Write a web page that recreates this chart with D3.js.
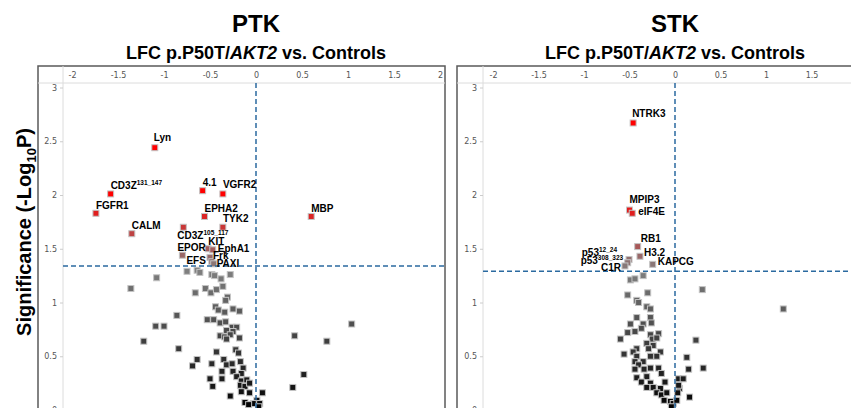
<!DOCTYPE html>
<html>
<head>
<meta charset="utf-8">
<script src="https://cdn.jsdelivr.net/npm/d3@7"></script>
<style>
  body { margin: 0; background: #fff; }
  svg { display: block; font-family: Arial, "Liberation Sans", sans-serif; }
  .tick text { font-family: "DejaVu Sans", Verdana, sans-serif; }
</style>
</head>
<body>
<div id="chart"></div>
<script>
// x ticks / y ticks shared by both panels
const xTicks = [-2, -1.5, -1, -0.5, 0, 0.5, 1, 1.5, 2];
const yTicks = [0, 0.5, 1, 1.5, 2, 2.5, 3];

// PTK labelled peptides: name, log fold change, -log10 p
const ptkNames = ['Lyn', 'CD3Z^131_147', 'FGFR1', 'CALM', '4.1', 'VGFR2', 'EPHA2', 'TYK2',
    'CD3Z^105_117', 'MBP', 'EPOR', 'KIT', 'EphA1', 'Frk', 'EFS', 'PAXI'];
const ptkLfc = [-1.10, -1.58, -1.74, -1.35, -0.58, -0.36, -0.56, -0.36,
    -0.79, 0.60, -0.80, -0.52, -0.47, -0.50, -0.48, -0.46];
const ptkSig = [2.44, 2.01, 1.83, 1.64, 2.04, 2.01, 1.80, 1.70,
    1.70, 1.80, 1.44, 1.50, 1.49, 1.42, 1.38, 1.36];

// PTK unlabelled peptides
const ptkOtherLfc = [-0.75, -0.64, -0.61, -0.48, -0.45, -0.38, -0.28, -1.08, -1.36, -0.66,
    -0.55, -0.49, -0.43, -0.36, -0.31, -0.33, -0.44, -0.41, -0.34, -0.25,
    -0.18, -0.86, -0.53, -0.46, -0.39, -0.33, -0.26, -0.21, -1.09, -1.00,
    -0.32, -0.25, -0.39, -0.34, -0.28, -0.18, -1.22, -0.32, -0.84, -0.43,
    -0.22, -0.19, -0.64, -0.69, -0.48, -0.35, -0.32, -0.26, -0.17, -0.14,
    -0.25, -0.16, -0.37, -0.50, -0.37, -0.21, -0.16, -0.10, -0.17, -0.12,
    -0.07, -0.47, -0.16, -0.07, -0.28, 0.07, 0.01, -0.03, -0.12, -0.08,
    0.04, 0.03, 1.04, 0.42, 0.77, 0.52, 0.40];
const ptkOtherSig = [1.29, 1.30, 1.28, 1.26, 1.25, 1.22, 1.26, 1.23, 1.13, 1.09,
    1.13, 1.09, 1.12, 1.15, 1.05, 1.02, 0.96, 0.93, 0.91, 0.94,
    0.92, 0.88, 0.84, 0.84, 0.81, 0.82, 0.77, 0.77, 0.78, 0.78,
    0.74, 0.73, 0.69, 0.68, 0.70, 0.67, 0.64, 0.66, 0.57, 0.54,
    0.56, 0.53, 0.47, 0.41, 0.43, 0.47, 0.42, 0.43, 0.45, 0.39,
    0.36, 0.34, 0.36, 0.29, 0.29, 0.31, 0.27, 0.28, 0.23, 0.22,
    0.25, 0.22, 0.17, 0.16, 0.13, 0.16, 0.09, 0.06, 0.07, 0.05,
    0.06, 0.03, 0.80, 0.69, 0.64, 0.33, 0.21];

// STK labelled peptides
const stkNames = ['NTRK3', 'MPIP3', 'eIF4E', 'RB1', 'H3.2', 'KAPCG',
    'p53^12_24', 'p53^308_323', 'C1R'];
const stkLfc = [-0.46, -0.50, -0.47, -0.41, -0.385, -0.245, -0.505, -0.52, -0.55];
const stkSig = [2.67, 1.86, 1.83, 1.52, 1.43, 1.355, 1.40, 1.37, 1.34];

// STK unlabelled peptides
const stkOtherLfc = [-0.49, -0.44, -0.35, 0.30, -0.52, -0.30, -0.42, -0.40, -0.31, -0.27,
    1.19, -0.42, -0.27, -0.49, -0.35, -0.26, -0.37, -0.52, -0.44, -0.27,
    -0.18, -0.60, 0.23, -0.25, -0.20, -0.31, -0.24, -0.42, -0.29, -0.16,
    -0.46, -0.56, -0.42, -0.27, -0.20, 0.13, -0.44, -0.35, -0.40, 0.15,
    0.31, -0.44, -0.34, -0.27, -0.18, -0.42, -0.31, -0.15, -0.37, -0.27,
    -0.11, 0.04, 0.09, -0.31, -0.24, -0.16, 0.05, 0.04, -0.20, -0.15,
    -0.09, 0.03, 0.16, -0.12, -0.05, -0.02, 0.02, -0.04];
const stkOtherSig = [1.21, 1.22, 1.25, 1.12, 1.07, 1.09, 1.02, 1.00, 0.96, 0.94,
    0.94, 0.86, 0.86, 0.80, 0.80, 0.81, 0.76, 0.72, 0.73, 0.70,
    0.71, 0.66, 0.65, 0.66, 0.67, 0.62, 0.60, 0.57, 0.57, 0.54,
    0.54, 0.52, 0.50, 0.50, 0.50, 0.49, 0.45, 0.45, 0.42, 0.38,
    0.39, 0.38, 0.38, 0.39, 0.39, 0.30, 0.31, 0.34, 0.26, 0.25,
    0.26, 0.29, 0.29, 0.21, 0.21, 0.20, 0.20, 0.23, 0.16, 0.14,
    0.16, 0.16, 0.12, 0.09, 0.08, 0.06, 0.09, 0.03];

// label nudges (layout only): [dx, dy, anchor]
const labelNudge = {
    'Lyn': [-1, -6.5, 'start'], 'CD3Z^131_147': [0, -4.5, 'start'], 'FGFR1': [0, -4, 'start'],
    'CALM': [0, -4.5, 'start'], '4.1': [0, -5, 'start'], 'VGFR2': [0, -5.5, 'start'],
    'EPHA2': [0, -5, 'start'], 'TYK2': [0, -5, 'start'], 'CD3Z^105_117': [-6, 12, 'start'],
    'MBP': [0, -4.5, 'start'], 'EPOR': [-5, -4, 'start'], 'KIT': [0, -4, 'start'],
    'EphA1': [5, 2, 'start'], 'Frk': [3, 2, 'start'], 'EFS': [-6, 2, 'end'], 'PAXI': [3, 3, 'start'],
    'NTRK3': [-1, -6, 'start'], 'MPIP3': [0, -7, 'start'], 'eIF4E': [6, 2, 'start'],
    'RB1': [3, -5, 'start'], 'H3.2': [4, 0, 'start'], 'KAPCG': [5, 1, 'start'],
    'p53^12_24': [-12, -3.5, 'end'], 'p53^308_323': [-4.5, 1, 'end'], 'C1R': [-4, 4.7, 'end']
};

const width = 851;
const height = 408;

const svg = d3.select('#chart')
    .append('svg')
    .attr('width', width)
    .attr('height', height);

const color = d3.scaleLinear()
    .domain([0, 1.3, 2.0])
    .range(['#000000', '#808080', '#ff0000'])
    .clamp(true);

function zipPoints(names, lfc, sig) {
    return lfc.map((v, i) => ({ name: names ? names[i] : null, lfc: v, sig: sig[i] }));
}

function drawPanel(opts) {
    const { title, boxLeft, boxRight, plotLeft, xRange, threshold, labelled, others } = opts;
    const boxTop = 66;
    const headerBottom = 83;

    const x = d3.scaleLinear().domain([-2, 2]).range(xRange);
    const y = d3.scaleLinear().domain([0, 3]).range([410, 87.5]);
    const cx = (xRange[0] + xRange[1]) / 2;

    const g = svg.append('g');

    // titles
    g.append('text')
        .attr('x', cx).attr('y', 32)
        .attr('text-anchor', 'middle')
        .style('font-size', '24px').style('font-weight', 'bold')
        .text(title);

    const sub = g.append('text')
        .attr('x', cx).attr('y', 59)
        .attr('text-anchor', 'middle')
        .style('font-size', '18px').style('font-weight', 'bold');
    sub.append('tspan').text('LFC p.P50T/');
    sub.append('tspan').style('font-style', 'italic').text('AKT2');
    sub.append('tspan').text(' vs. Controls');

    // frame
    g.append('rect')
        .attr('x', boxLeft).attr('y', boxTop)
        .attr('width', boxRight - boxLeft).attr('height', height + 10 - boxTop)
        .attr('fill', '#fff')
        .attr('stroke', '#5a5a5a')
        .attr('stroke-width', 1.5);

    g.append('line')
        .attr('x1', boxLeft).attr('x2', boxRight)
        .attr('y1', headerBottom).attr('y2', headerBottom)
        .attr('stroke', '#dcdcdc');
    g.append('line')
        .attr('x1', plotLeft).attr('x2', plotLeft)
        .attr('y1', boxTop).attr('y2', height + 10)
        .attr('stroke', '#dcdcdc');

    // axes (only ticks that fit inside the picture)
    const shownX = xTicks.filter(v => x(v) < width - 6);
    const xAxis = g.append('g')
        .attr('transform', `translate(0,${headerBottom})`)
        .call(d3.axisTop(x).tickValues(shownX).tickSize(0).tickPadding(5).tickFormat(d => String(d)));
    xAxis.select('.domain').remove();
    xAxis.selectAll('text').style('font-size', '8px').attr('fill', '#555');

    const yAxis = g.append('g')
        .attr('transform', `translate(${plotLeft},0)`)
        .call(d3.axisLeft(y).tickValues(yTicks).tickSize(3).tickPadding(3).tickFormat(d => String(d)));
    yAxis.select('.domain').remove();
    yAxis.selectAll('line').attr('stroke', '#ccc');
    yAxis.selectAll('text').style('font-size', '8px').attr('fill', '#555');

    // points
    const all = others.concat(labelled);
    const s = 6;
    g.append('g')
        .selectAll('rect')
        .data(all)
        .enter()
        .append('rect')
        .attr('x', d => x(d.lfc) - s / 2)
        .attr('y', d => y(d.sig) - s / 2)
        .attr('width', s).attr('height', s)
        .attr('fill', d => color(d.sig))
        .attr('stroke', '#c4c4c4')
        .attr('stroke-width', 1);

    // cut-off lines
    g.append('line')
        .attr('x1', x(0)).attr('x2', x(0))
        .attr('y1', headerBottom).attr('y2', height)
        .attr('stroke', '#2b6aa0').attr('stroke-width', 1.5)
        .attr('stroke-dasharray', '5,3');
    g.append('line')
        .attr('x1', plotLeft).attr('x2', boxRight)
        .attr('y1', y(threshold)).attr('y2', y(threshold))
        .attr('stroke', '#2b6aa0').attr('stroke-width', 1.5)
        .attr('stroke-dasharray', '5,3');

    // labels
    labelled.forEach(d => {
        const [dx, dy, anchor] = labelNudge[d.name];
        const parts = d.name.split('^');
        const t = g.append('text')
            .attr('x', x(d.lfc) + dx)
            .attr('y', y(d.sig) + dy)
            .attr('text-anchor', anchor)
            .style('font-size', '10px').style('font-weight', 'bold');
        t.append('tspan').text(parts[0]);
        if (parts[1]) {
            t.append('tspan').attr('dy', -4).style('font-size', '6.5px').text(parts[1]);
        }
    });
}

drawPanel({
    title: 'PTK',
    boxLeft: 38, boxRight: 445, plotLeft: 63,
    xRange: [72, 440],
    threshold: 1.34,
    labelled: zipPoints(ptkNames, ptkLfc, ptkSig),
    others: zipPoints(null, ptkOtherLfc, ptkOtherSig)
});

drawPanel({
    title: 'STK',
    boxLeft: 457, boxRight: 870, plotLeft: 483,
    xRange: [493, 857],
    threshold: 1.29,
    labelled: zipPoints(stkNames, stkLfc, stkSig),
    others: zipPoints(null, stkOtherLfc, stkOtherSig)
});

// shared y label
const yl = svg.append('text')
    .attr('transform', 'translate(31,232) rotate(-90)')
    .attr('text-anchor', 'middle')
    .style('font-size', '20px').style('font-weight', 'bold');
yl.append('tspan').text('Significance (-Log');
yl.append('tspan').attr('dy', 5).style('font-size', '13px').text('10');
yl.append('tspan').attr('dy', -5).text('P)');
</script>
</body>
</html>
